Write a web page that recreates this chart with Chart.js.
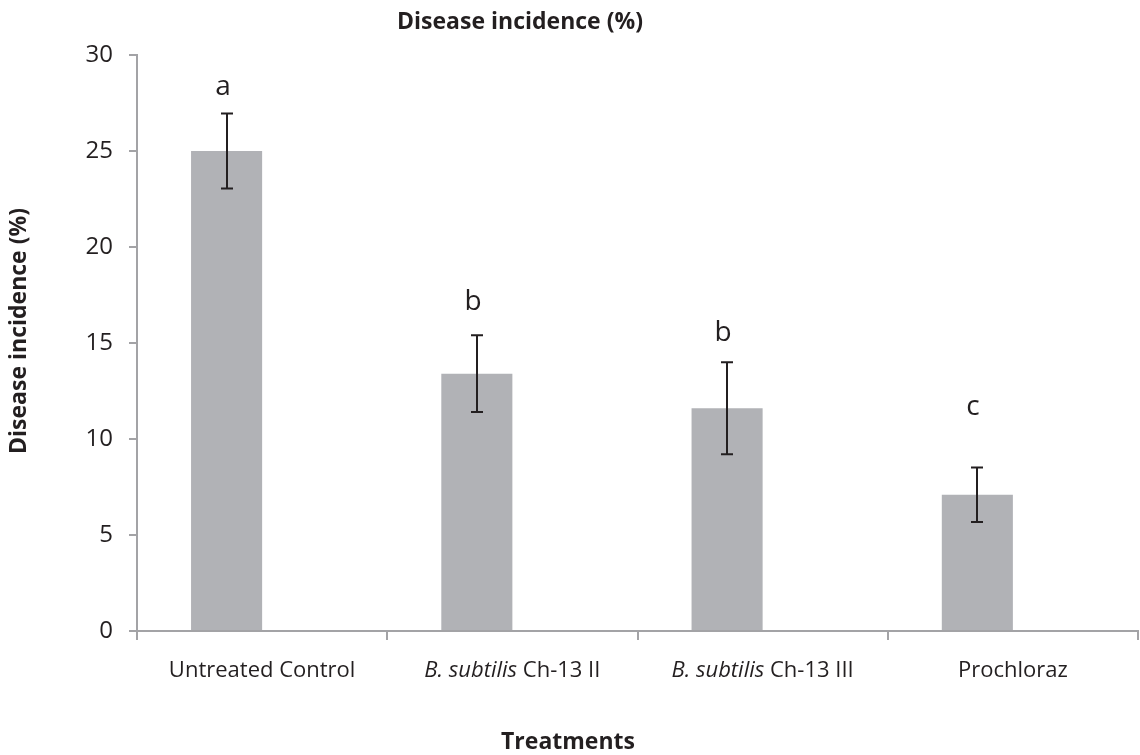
<!DOCTYPE html>
<html><head><meta charset="utf-8">
<script src="https://cdn.jsdelivr.net/npm/chart.js@4/dist/chart.umd.min.js"></script>
<style>html,body{margin:0;padding:0;background:#fff}canvas{display:block}</style>
</head><body>
<canvas id="c" width="1140" height="755"></canvas>
<script>
// ---- data ----
const categories = ['Untreated Control', 'B. subtilis Ch-13 II', 'B. subtilis Ch-13 III', 'Prochloraz'];
const italicParts = ['', 'B. subtilis', 'B. subtilis', ''];
const incidence = [25.0, 13.4, 11.6, 7.1];
const errors = [1.95, 2.0, 2.4, 1.42];
const letters = ['a', 'b', 'b', 'c'];
const letterValues = [27.92, 16.7, 15.1, 11.25];
const yMin = 0, yMax = 30, yStep = 5;
const mainTitle = 'Disease incidence (%)';
const yTitle = 'Disease incidence (%)';
const xTitle = 'Treatments';

const TEXT = '#231f20';
const AXIS = '#a3a3a6';
const FONT = '"Open Sans", "DejaVu Sans", sans-serif';

const annot = {
  id: 'annot',
  afterDatasetsDraw(chart) {
    const { ctx, scales: { y } } = chart;
    const meta = chart.getDatasetMeta(0);
    ctx.save();
    ctx.strokeStyle = TEXT;
    ctx.lineWidth = 2;
    ctx.fillStyle = TEXT;
    ctx.font = '28px ' + FONT;
    ctx.textAlign = 'center';
    ctx.textBaseline = 'alphabetic';
    meta.data.forEach((bar, i) => {
      const cx = Math.round(bar.x);
      const yt = y.getPixelForValue(incidence[i] + errors[i]);
      const yb = y.getPixelForValue(incidence[i] - errors[i]);
      ctx.beginPath();
      ctx.moveTo(cx, yt); ctx.lineTo(cx, yb);
      ctx.moveTo(cx - 6, yt); ctx.lineTo(cx + 6, yt);
      ctx.moveTo(cx - 6, yb); ctx.lineTo(cx + 6, yb);
      ctx.stroke();
      ctx.fillText(letters[i], cx - 4, y.getPixelForValue(letterValues[i]));
    });
    ctx.restore();
  },
  afterDraw(chart) {
    const { ctx, scales: { x } } = chart;
    ctx.save();
    ctx.fillStyle = TEXT;
    ctx.textBaseline = 'alphabetic';
    ctx.textAlign = 'left';
    const regFont = '22px ' + FONT;
    const itFont = 'italic 22px ' + FONT;
    categories.forEach((lab, i) => {
      const cx = x.getPixelForValue(i);
      const it = italicParts[i];
      const rest = it ? lab.slice(it.length) : lab;
      ctx.font = itFont;
      const wIt = it ? ctx.measureText(it).width : 0;
      ctx.font = regFont;
      const wRest = ctx.measureText(rest).width;
      let sx = cx - (wIt + wRest) / 2;
      const by = x.top + 46;
      if (it) { ctx.font = itFont; ctx.fillText(it, sx, by); sx += wIt; }
      ctx.font = regFont;
      ctx.fillText(rest, sx, by);
    });
    ctx.font = 'bold 23px ' + FONT;
    ctx.textAlign = 'center';
    ctx.textBaseline = 'middle';
    ctx.fillText(mainTitle, 520, 22);
    ctx.fillText(xTitle, 568, 742);
    ctx.translate(19, 331);
    ctx.rotate(-Math.PI / 2);
    ctx.fillText(yTitle, 0, 0);
    ctx.restore();
  }
};

new Chart(document.getElementById('c'), {
  type: 'bar',
  data: {
    labels: categories,
    datasets: [
      { data: incidence, backgroundColor: '#b1b2b6', borderWidth: 0, categoryPercentage: 0.568, barPercentage: 1 },
      { data: categories.map(() => null), backgroundColor: 'transparent', categoryPercentage: 0.568, barPercentage: 1 }
    ]
  },
  options: {
    responsive: false,
    animation: false,
    devicePixelRatio: 1,
    layout: { padding: { top: 55, left: 0, right: 2, bottom: 0 } },
    plugins: { legend: { display: false }, tooltip: { enabled: false }, title: { display: false } },
    scales: {
      x: {
        grid: { offset: true, drawOnChartArea: false, drawTicks: true, tickLength: 9, color: AXIS, lineWidth: 2 },
        border: { color: AXIS, width: 2 },
        ticks: { color: 'transparent', font: { size: 22, family: FONT }, maxRotation: 0, autoSkip: false },
        afterFit(s) { s.height = 124; }
      },
      y: {
        min: yMin, max: yMax,
        grid: { drawOnChartArea: false, drawTicks: true, tickLength: 8, color: AXIS, lineWidth: 2 },
        border: { color: AXIS, width: 2 },
        ticks: { stepSize: yStep, color: TEXT, padding: 16, font: { size: 24, family: FONT } },
        afterFit(s) { s.width = 137; }
      }
    }
  },
  plugins: [annot]
});
</script>
</body></html>
